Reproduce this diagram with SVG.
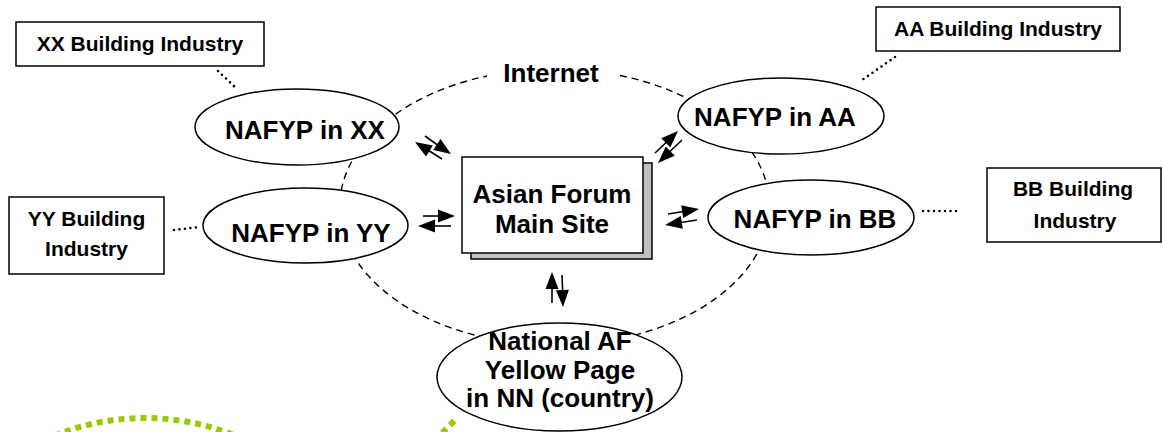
<svg xmlns="http://www.w3.org/2000/svg" width="1163" height="432" viewBox="0 0 1163 432">
<style>
.t{font-family:"Liberation Sans",Arial,sans-serif;font-weight:bold;fill:#000;text-anchor:middle}
.n{font-size:26px}
.b{font-size:21px}
.box{fill:#fff;stroke:#000;stroke-width:1.5}
.ell{fill:#fff;stroke:#000;stroke-width:1.5}
.arr{stroke:#000;stroke-width:1.6;fill:none}
.head{fill:#000;stroke:none}
.dot{stroke:#000;stroke-width:2.6;stroke-linecap:round;stroke-dasharray:0 5.5;fill:none}
.net{fill:none;stroke:#000;stroke-width:1.4;stroke-dasharray:7 5}
.green{fill:none;stroke:#99cc00;stroke-width:6;stroke-dasharray:6 5}
</style>
<defs>
<path id="ah" d="M0,0 L-17,-6.5 L-17,6.5 z"/>
</defs>

<g id="internet">
<path class="net" d="M620,75.5 A215 138 0 1 1 487,76"/>
<text class="t n" x="551" y="82">Internet</text>
</g>

<g id="decor">
<path class="green" d="M44.6,440 A240 240 0 0 1 245.4,440"/>
<line class="green" x1="454.2" y1="420.8" x2="420" y2="455"/>
</g>

<g id="connectors">
<line class="dot" x1="218" y1="71" x2="237" y2="89"/>
<line class="dot" x1="895" y1="57" x2="862" y2="80"/>
<line class="dot" x1="174" y1="230" x2="200" y2="227"/>
<line class="dot" x1="923" y1="211" x2="960" y2="211"/>
<line class="arr" x1="442" y1="159" x2="420" y2="145"/>
<use href="#ah" class="head" transform="translate(415,142) rotate(212)"/>
<line class="arr" x1="425" y1="136" x2="446" y2="151"/>
<use href="#ah" class="head" transform="translate(451,154) rotate(34)"/>
<line class="arr" x1="655" y1="153" x2="674" y2="135"/>
<use href="#ah" class="head" transform="translate(678,131) rotate(-44)"/>
<line class="arr" x1="682" y1="140" x2="662" y2="159"/>
<use href="#ah" class="head" transform="translate(658,163) rotate(136)"/>
<line class="arr" x1="423" y1="216" x2="449" y2="216"/>
<use href="#ah" class="head" transform="translate(455,216) rotate(0)"/>
<line class="arr" x1="451" y1="226" x2="424" y2="226"/>
<use href="#ah" class="head" transform="translate(418,226) rotate(180)"/>
<line class="arr" x1="668" y1="214" x2="693" y2="210"/>
<use href="#ah" class="head" transform="translate(699,209) rotate(-9)"/>
<line class="arr" x1="697" y1="220" x2="671" y2="224"/>
<use href="#ah" class="head" transform="translate(665,225) rotate(171)"/>
<line class="arr" x1="552" y1="303" x2="552" y2="278"/>
<use href="#ah" class="head" transform="translate(552,272) rotate(-90)"/>
<line class="arr" x1="562" y1="275" x2="563" y2="301"/>
<use href="#ah" class="head" transform="translate(563,307) rotate(88)"/>
</g>

<g id="xx-industry">
<rect class="box" x="16" y="22" width="248" height="44"/>
<text class="t b" x="140" y="51">XX Building Industry</text>
</g>
<g id="aa-industry">
<rect class="box" x="876" y="7" width="244" height="44"/>
<text class="t b" x="998" y="36">AA Building Industry</text>
</g>
<g id="yy-industry">
<rect class="box" x="9" y="197" width="155" height="77"/>
<text class="t b" x="86.5" y="226">YY Building</text>
<text class="t b" x="86.5" y="256">Industry</text>
</g>
<g id="bb-industry">
<rect class="box" x="987" y="168" width="174" height="74"/>
<text class="t b" x="1073" y="196">BB Building</text>
<text class="t b" x="1075" y="228">Industry</text>
</g>

<g id="nafyp-xx">
<ellipse class="ell" cx="297" cy="127" rx="102" ry="38"/>
<text class="t n" x="305" y="139">NAFYP in XX</text>
</g>
<g id="nafyp-aa">
<ellipse class="ell" cx="781" cy="116" rx="103" ry="38"/>
<text class="t n" x="775" y="126">NAFYP in AA</text>
</g>
<g id="nafyp-yy">
<ellipse class="ell" cx="305.5" cy="225.5" rx="102.5" ry="37.5"/>
<text class="t n" x="311" y="242">NAFYP in YY</text>
</g>
<g id="nafyp-bb">
<ellipse class="ell" cx="811" cy="217.5" rx="103" ry="37.5"/>
<text class="t n" x="815" y="228">NAFYP in BB</text>
</g>

<g id="main-site">
<rect x="471" y="163" width="181" height="96" fill="#c0c0c0" stroke="#000" stroke-width="1.5"/>
<rect class="box" x="462" y="157" width="181" height="96"/>
<text class="t n" x="552" y="203">Asian Forum</text>
<text class="t n" x="552" y="233">Main Site</text>
</g>

<g id="national-af">
<ellipse class="ell" cx="559.5" cy="377" rx="122.5" ry="54"/>
<text class="t n" x="560" y="350">National AF</text>
<text class="t n" x="560" y="379">Yellow Page</text>
<text class="t n" x="560" y="407">in NN (country)</text>
</g>
</svg>
